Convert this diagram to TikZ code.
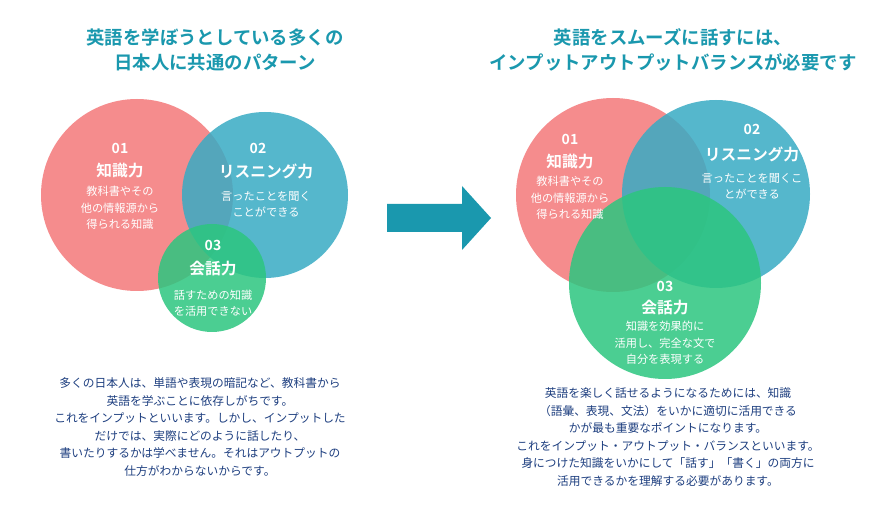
\documentclass[tikz,border=0pt]{standalone}
\usepackage{fontspec}
\setmainfont{Noto Sans CJK JP}
\newfontfamily\jpb{Noto Sans CJK JP Bold}
\definecolor{cred}{HTML}{F4787A}
\definecolor{cblue}{HTML}{38ABC4}
\definecolor{cgreen}{HTML}{2CC67F}
\definecolor{teal}{HTML}{1A98AE}
\definecolor{navy}{HTML}{1E3F80}
\begin{document}
\begin{tikzpicture}[x=0.75pt,y=-0.75pt,
  circ/.style={fill opacity=0.85,draw=none},
  num/.style={text=white,font=\jpb\fontsize{10.5}{12}\selectfont},
  ttl/.style={text=white,font=\jpb\fontsize{11.8}{13}\selectfont},
  desc/.style={text=white,align=center,font=\fontsize{8.4}{12.2}\selectfont},
  head/.style={text=teal,align=center,font=\jpb\fontsize{13.8}{19}\selectfont},
  body/.style={text=navy,align=center,font=\fontsize{8.8}{13.2}\selectfont}]
\useasboundingbox (0,0) rectangle (893,505);
\fill[white] (0,0) rectangle (893,505);
% left venn
\fill[cred,circ] (137,195) circle (96);
\fill[cblue,circ] (265,195) circle (83);
\fill[cgreen,circ] (212,278) circle (54);
\node[num] (l1n) at (120,148) {01};
\node[ttl] (l1t) at (120,171) {知識力};
\node[desc] (l1d) at (120,208) {教科書やその\\他の情報源から\\得られる知識};
\node[num] (l2n) at (258,148) {02};
\node[ttl] (l2t) at (266,171) {リスニング力};
\node[desc] (l2d) at (266,204) {言ったことを聞く\\ことができる};
\node[num] (l3n) at (213,245) {03};
\node[ttl] (l3t) at (213,269) {会話力};
\node[desc] (l3d) at (213,303) {話すための知識\\を活用できない};
% right venn
\fill[cred,circ] (613,195) circle (97);
\fill[cblue,circ] (716,194) circle (94);
\fill[cgreen,circ] (665,283) circle (96);
\node[num] (r1n) at (570,139) {01};
\node[ttl] (r1t) at (570,162) {知識力};
\node[desc] (r1d) at (570,198) {教科書やその\\他の情報源から\\得られる知識};
\node[num] (r2n) at (752,129) {02};
\node[ttl] (r2t) at (752,154) {リスニング力};
\node[desc] (r2d) at (752,186) {言ったことを聞くこ\\とができる};
\node[num] (r3n) at (665,286) {03};
\node[ttl] (r3t) at (665,308) {会話力};
\node[desc] (r3d) at (665,343) {知識を効果的に\\活用し、完全な文で\\自分を表現する};
% titles
\node[head] (hl) at (215,50) {英語を学ぼうとしている多くの\\日本人に共通のパターン};
\node[head] (hr) at (673,50) {英語をスムーズに話すには、\\インプットアウトプットバランスが必要です};
% arrow
\fill[teal] (387,204) -- (462,204) -- (462,186) -- (491,218) -- (462,250) -- (462,232) -- (387,232) -- cycle;
% bodies
\node[body] (bl) at (200,427) {多くの日本人は、単語や表現の暗記など、教科書から\\英語を学ぶことに依存しがちです。\\これをインプットといいます。しかし、インプットした\\だけでは、実際にどのように話したり、\\書いたりするかは学べません。それはアウトプットの\\仕方がわからないからです。};
\node[body] (br) at (668,437) {英語を楽しく話せるようになるためには、知識\\（語彙、表現、文法）をいかに適切に活用できる\\かが最も重要なポイントになります。\\これをインプット・アウトプット・バランスといいます。\\身につけた知識をいかにして「話す」「書く」の両方に\\活用できるかを理解する必要があります。};
\end{tikzpicture}
\end{document}
